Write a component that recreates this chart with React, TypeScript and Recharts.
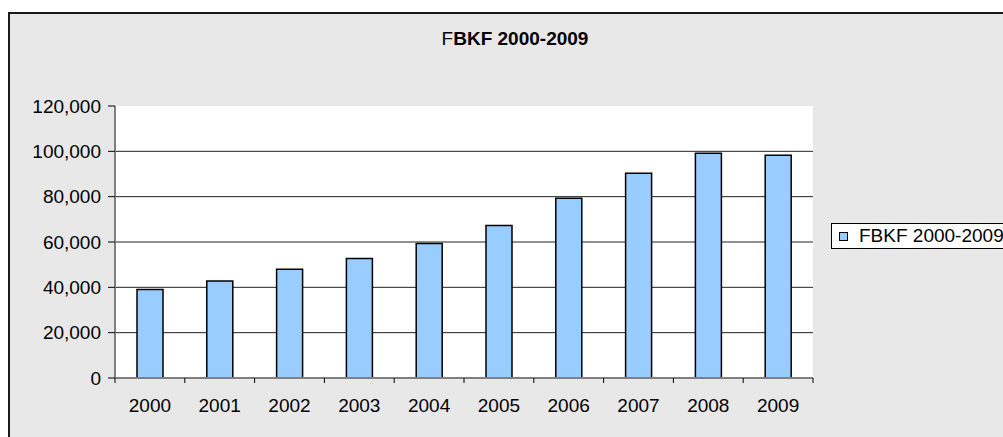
import React from 'react';
import { BarChart, Bar, XAxis, YAxis, CartesianGrid, Legend } from 'recharts';

const years = ['2000', '2001', '2002', '2003', '2004', '2005', '2006', '2007', '2008', '2009'];
const fbkf = [39000, 42800, 48000, 52700, 59300, 67300, 79300, 90300, 99100, 98300];
const yTicks = [0, 20000, 40000, 60000, 80000, 100000, 120000];
const gridValues = [20000, 40000, 60000, 80000, 100000];
const seriesName = 'FBKF 2000-2009';

const data = years.map((y, i) => ({ year: y, v: fbkf[i] }));

const FONT = '"Liberation Sans", Arial, sans-serif';

const CatTick = (props: any) => {
  const { x, y, payload, index, visibleTicksCount } = props;
  const off = payload && typeof payload.offset === 'number' ? payload.offset : 0;
  const last = index === visibleTicksCount - 1;
  return (
    <g>
      <line x1={x - off} x2={x - off} y1={y} y2={y + 5} stroke="#000" strokeWidth={1} />
      {last && <line x1={x + off} x2={x + off} y1={y} y2={y + 5} stroke="#000" strokeWidth={1} />}
      <text
        x={x}
        y={y + 21}
        dy="0.71em"
        textAnchor="middle"
        fill="#000"
        fontSize={19}
        fontFamily={FONT}
      >
        {payload.value}
      </text>
    </g>
  );
};

const LegendBox = () => (
  <div
    style={{
      display: 'flex',
      alignItems: 'center',
      background: '#fff',
      border: '1px solid #000',
      height: 24,
      paddingLeft: 7,
      whiteSpace: 'nowrap',
      fontFamily: FONT,
      fontSize: 19,
      color: '#000',
      width: 220,
    }}
  >
    <span
      style={{
        display: 'inline-block',
        width: 7,
        height: 7,
        background: '#99CCFF',
        border: '1px solid #000',
        marginRight: 11,
      }}
    />
    <span>{seriesName}</span>
  </div>
);

export default function App() {
  return (
    <div
      style={{
        position: 'fixed',
        left: 8,
        top: 12,
        width: 993,
        height: 423,
        borderTop: '2px solid #1a1a1a',
        borderLeft: '2px solid #1a1a1a',
        background: '#E8E8E8',
        overflow: 'hidden',
      }}
    >
      <BarChart
        width={993}
        height={423}
        data={data}
        margin={{ top: 92, right: 190, bottom: 29, left: 5 }}
        barCategoryGap="30%"
        style={{ fontFamily: FONT }}
      >
        <CartesianGrid
          vertical={false}
          horizontalValues={gridValues}
          stroke="#222"
          strokeWidth={1}
          fill="#fff"
          fillOpacity={1}
        />
        <XAxis
          dataKey="year"
          height={30}
          axisLine={{ stroke: '#808080', strokeWidth: 2 }}
          tickLine={false}
          tickSize={0}
          tickMargin={0}
          tick={<CatTick />}
          interval={0}
        />
        <YAxis
          width={100}
          domain={[0, 120000]}
          ticks={yTicks}
          interval={0}
          axisLine={{ stroke: '#808080', strokeWidth: 2 }}
          tickLine={{ stroke: '#000' }}
          tickSize={7}
          tickMargin={7}
          tick={{ fill: '#000', fontSize: 19, fontFamily: FONT }}
          tickFormatter={(v: number) => v.toLocaleString('en-US')}
        />
        <Legend
          layout="horizontal"
          align="center"
          verticalAlign="middle"
          wrapperStyle={{ left: 821, top: 209, width: 230 }}
          content={() => <LegendBox />}
        />
        <Bar
          dataKey="v"
          name={seriesName}
          fill="#99CCFF"
          stroke="#000"
          strokeWidth={1.5}
          barSize={26}
          isAnimationActive={false}
        />
        <text
          x={505}
          y={31}
          textAnchor="middle"
          fontSize={19}
          fontFamily={FONT}
          fill="#000"
        >
          <tspan>F</tspan>
          <tspan fontWeight="bold">BKF 2000-2009</tspan>
        </text>
      </BarChart>
    </div>
  );
}
